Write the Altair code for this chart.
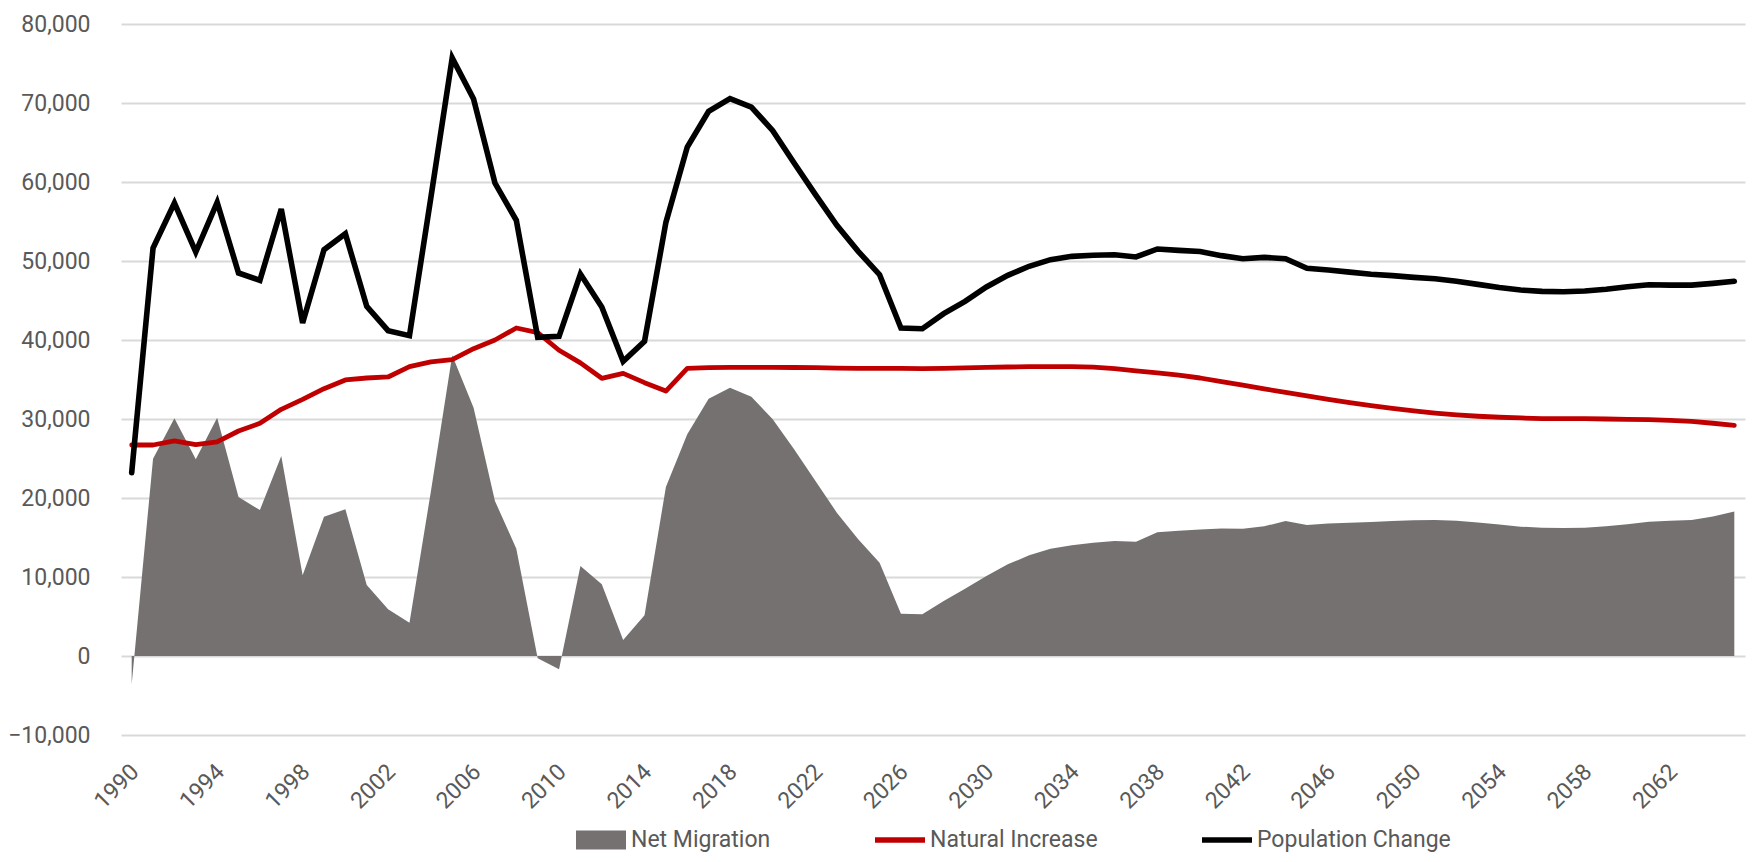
import altair as alt
import pandas as pd

# ---------------- data ----------------
years = list(range(1990, 2066))

net_migration = [
    -3590, 24980, 30080, 24890, 30170, 20130, 18480, 25320, 10210, 17640,
    18570, 8990, 5910, 4220, 20800, 38060, 31430, 19620, 13590, -300,
    -1690, 11390, 9070, 2030, 5150, 21390, 28060, 32570, 33970, 32830,
    29960, 26160, 22150, 18140, 14770, 11810, 5360, 5270, 6960, 8520,
    10130, 11600, 12740, 13590, 14010, 14350, 14560, 14470, 15660, 15840,
    16020, 16150, 16100, 16410, 17100, 16590, 16770, 16860, 16950, 17080,
    17170, 17210, 17130, 16900, 16640, 16370, 16240, 16200, 16240, 16420,
    16690, 17000, 17130, 17210, 17660, 18280,
]

natural_increase = [
    26710, 26710, 27220, 26750, 27090, 28480, 29450, 31220, 32490, 33840,
    34940, 35190, 35320, 36620, 37220, 37510, 38900, 40000, 41520, 40930,
    38700, 37100, 35150, 35780, 34600, 33540, 36410, 36500, 36540, 36540,
    36540, 36520, 36500, 36450, 36410, 36400, 36410, 36380, 36420, 36480,
    36540, 36580, 36620, 36640, 36620, 36560, 36370, 36080, 35850, 35550,
    35190, 34740, 34300, 33810, 33370, 32920, 32480, 32080, 31680, 31330,
    31020, 30750, 30530, 30350, 30220, 30130, 30040, 30040, 30040, 30000,
    29950, 29910, 29820, 29690, 29460, 29200,
]

population_change = [
    23200, 51650, 57340, 51140, 57430, 48480, 47550, 56580, 42150, 51430,
    53460, 44260, 41180, 40550, 58000, 75700, 70500, 59870, 55150, 40340,
    40470, 48350, 44180, 37300, 39830, 54890, 64430, 68950, 70550, 69490,
    66500, 62400, 58400, 54510, 51220, 48270, 41520, 41430, 43330, 44890,
    46710, 48190, 49330, 50170, 50590, 50720, 50800, 50510, 51520, 51340,
    51210, 50680, 50280, 50460, 50280, 49080, 48860, 48590, 48330, 48150,
    47930, 47750, 47440, 47040, 46640, 46330, 46150, 46110, 46200, 46420,
    46730, 47000, 46950, 46950, 47170, 47440,
]

series_names = ["Net Migration", "Natural Increase", "Population Change"]
series_colors = ["#767171", "#C00000", "#000000"]
x_tick_years = list(range(1990, 2063, 4))
y_ticks = list(range(-10000, 80001, 10000))

# ---------------- styling ----------------
FONT = "Roboto"
TEXT_COLOR = "#595959"
GRID_COLOR = "#D9D9D9"

df = pd.DataFrame({
    "year": years,
    "nm": net_migration,
    "ni": natural_increase,
    "pc": population_change,
})

x_enc = alt.X(
    "year:Q",
    scale=alt.Scale(domain=[1989.5, 2065.5], nice=False, zero=False),
    axis=alt.Axis(
        values=x_tick_years, format="d", labelAngle=315, labelAlign="right",
        labelBaseline="middle", labelPadding=33, labelOffset=3, grid=False,
        domain=False, ticks=False, tickSize=0, title=None, labelFontSize=23,
        labelColor=TEXT_COLOR, labelFont=FONT, labelOverlap=False,
    ),
)

y_scale = alt.Scale(domain=[-10000, 80000], nice=False, zero=False)
y_axis = alt.Axis(
    values=y_ticks, format=",.0f", grid=True, gridColor=GRID_COLOR, gridWidth=2,
    domain=False, ticks=False, tickSize=0, labelPadding=31, labelFontSize=23,
    labelColor=TEXT_COLOR, labelFont=FONT, title=None,
)

area = alt.Chart(df).mark_area(color=series_colors[0]).encode(
    x=x_enc,
    y=alt.Y("nm:Q", scale=y_scale, axis=y_axis),
    y2=alt.datum(0),
)

red = alt.Chart(df).mark_line(
    color=series_colors[1], strokeWidth=4.8, strokeCap="round", strokeJoin="round"
).encode(x=x_enc, y=alt.Y("ni:Q", scale=y_scale, axis=y_axis))

black = alt.Chart(df).mark_line(
    color=series_colors[2], strokeWidth=5.6, strokeCap="round", strokeJoin="miter"
).encode(x=x_enc, y=alt.Y("pc:Q", scale=y_scale, axis=y_axis))

legend_shapes = [
    "M-1,-0.38H1V0.38H-1Z",
    "M-1,-0.11H1V0.11H-1Z",
    "M-1,-0.11H1V0.11H-1Z",
]

legend_cfg = dict(
    orient="none", legendX=455, legendY=791, direction="horizontal",
    columnPadding=104, labelFontSize=23, labelColor=TEXT_COLOR,
    labelFont=FONT, symbolSize=2500, symbolStrokeWidth=0, title=None,
    labelOffset=5, padding=0, labelLimit=400,
)

legend_df = pd.DataFrame({"series": series_names})
legend_layer = alt.Chart(legend_df).transform_filter("false").mark_point(
    filled=True, opacity=1
).encode(
    color=alt.Color("series:N", scale=alt.Scale(domain=series_names, range=series_colors),
                    legend=alt.Legend(**legend_cfg)),
    shape=alt.Shape("series:N", scale=alt.Scale(domain=series_names, range=legend_shapes),
                    legend=alt.Legend(**legend_cfg)),
)

chart = alt.layer(area, red, black, legend_layer).properties(
    width=1624,
    height=711,
    padding={"left": 113, "top": 16, "right": 1, "bottom": 119},
    autosize=alt.AutoSizeParams(type="none"),
).configure_view(stroke=None)

chart.save("out.html", embed_options={"renderer": "svg", "actions": False})
